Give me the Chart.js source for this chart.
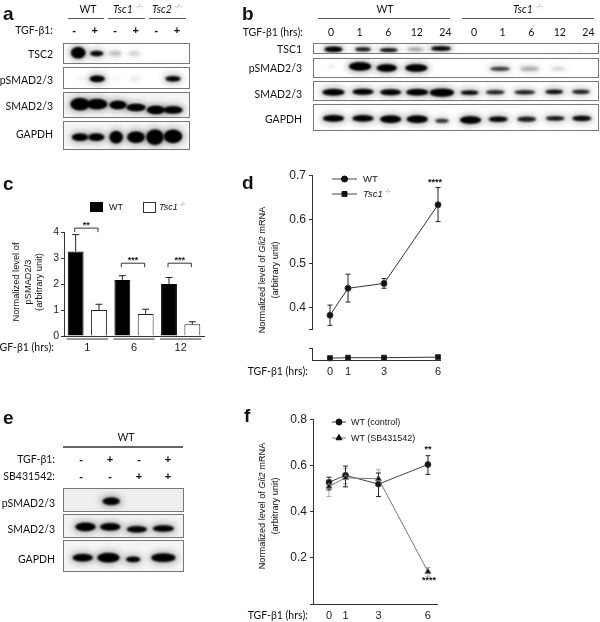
<!DOCTYPE html>
<html>
<head>
<meta charset="utf-8">
<title>TGF-b1 blots and charts</title>
<script src="https://cdn.jsdelivr.net/npm/chart.js@4/dist/chart.umd.min.js"></script>
<style>
  html, body { margin: 0; padding: 0; background: #fff; }
  #page { position: relative; width: 600px; height: 622px; overflow: hidden; filter: blur(0.3px); }
  #page canvas { position: absolute; display: block; }
  .txt { position: absolute; white-space: nowrap; color: #111; line-height: 1; }
  .strip { position: absolute; box-sizing: border-box; border: 1px solid #777; overflow: hidden; }
  .rule { position: absolute; }
  sup { font-size: 60%; color: #777; line-height: 0; }
</style>
</head>
<body>
<div id="page"></div>
<script>
/* --------------- Chart values --------------- */
// panel c
const barHours = ["1", "6", "12"];
const wtBar = [3.25, 2.15, 2.0];
const wtBarTop = [3.9, 2.32, 2.25];
const tscBar = [1.0, 0.85, 0.45];
const tscBarTop = [1.22, 1.03, 0.55];
const barStars = ["**", "***", "***"];
const bracketLevel = [4.15, 2.8, 2.8];

// panel d
const gliHours = [0, 1, 3, 6];
const wtGli = [0.383, 0.444, 0.455, 0.633];
const wtGliHi = [0.406, 0.476, 0.466, 0.672];
const wtGliLo = [0.36, 0.413, 0.444, 0.595];
const tscGli = [0.011, 0.013, 0.013, 0.015];
const gliUpperTicks = [0.35, 0.4, 0.5, 0.6, 0.7];

// panel f
const ctrlGli = [0.527, 0.557, 0.519, 0.604];
const ctrlGliHi = [0.549, 0.597, 0.567, 0.642];
const ctrlGliLo = [0.494, 0.507, 0.465, 0.561];
const sbGli = [0.509, 0.546, 0.542, 0.14];
const sbGliHi = [0.535, 0.585, 0.581, 0.158];
const sbGliLo = [0.465, 0.52, 0.513, 0.12];

// blots: band darkness per lane, 0 = nothing to see
const aTsc2 = [1, 0.85, 0.22, 0.15, 0, 0];
const aPsmad = [0.05, 1, 0.04, 0.1, 0, 0.9];
const aSmad = [1, 1, 1, 1, 1, 1];
const aGapdh = [1, 1, 1, 1, 1, 1];
const bTsc1 = [0.95, 0.8, 0.8, 0.4, 0.95, 0, 0, 0, 0.04, 0.06];
const bPsmad = [0.08, 1, 1, 1, 0, 0, 0.55, 0.32, 0.18, 0];
const bSmad = [1, 0.95, 0.95, 1, 1, 0.9, 0.7, 0.7, 0.85, 0.7];
const bGapdh = [1, 0.95, 1, 1, 0.6, 1, 0.9, 0.7, 0.8, 0.85];
const ePsmad = [0, 1, 0, 0];
const eSmad = [1, 1, 0.95, 0.95];
const eGapdh = [1, 1, 1, 1];

// lane headers
const aTgf = ["-", "+", "-", "+", "-", "+"];
const bHours = ["0", "1", "6", "12", "24", "0", "1", "6", "12", "24"];
const eTgf = ["-", "+", "-", "+"];
const eSb = ["-", "-", "+", "+"];

/* --------------- Helpers --------------- */
const page = document.getElementById("page");
const SANS = '"Liberation Sans", Arial, sans-serif';
const SOFT = 'Lato, "Open Sans", sans-serif';

function label(html, x, y, opts = {}) {
  const el = document.createElement("div");
  el.className = "txt";
  el.innerHTML = html;
  el.style.left = x + "px";
  el.style.top = y + "px";
  el.style.fontFamily = opts.font || SOFT;
  el.style.fontSize = (opts.size || 10.5) + "px";
  if (opts.bold) el.style.fontWeight = "bold";
  const tx = opts.align === "right" ? "-100%" : opts.align === "left" ? "0" : "-50%";
  el.style.transform = `translate(${tx}, -50%)` + (opts.rot ? ` rotate(${opts.rot}deg)` : "");
  page.appendChild(el);
}

function rule(x0, x1, y, color = "#555", h = 1) {
  const el = document.createElement("div");
  el.className = "rule";
  el.style.cssText = `left:${x0}px;top:${y}px;width:${x1 - x0}px;height:${h}px;background:${color}`;
  page.appendChild(el);
}

function addCanvas(left, top, w, h, parent = page) {
  const c = document.createElement("canvas");
  c.width = w;
  c.height = h;
  c.style.left = left + "px";
  c.style.top = top + "px";
  parent.appendChild(c);
  return c;
}

// a blurred smear for one blot band
function bandSprite(w, h, level) {
  const pad = 14;
  const c = document.createElement("canvas");
  c.width = Math.ceil(w + pad * 2);
  c.height = Math.ceil(h + pad * 2);
  const g = c.getContext("2d");
  const blob = (grow, alpha, blur) => {
    g.filter = `blur(${blur}px)`;
    g.fillStyle = `rgba(0,0,0,${alpha})`;
    g.beginPath();
    g.ellipse(c.width / 2, c.height / 2, w / 2 + grow, h / 2 + grow, 0, 0, Math.PI * 2);
    g.fill();
  };
  blob(3, 0.26 * level, 3);
  blob(0, level, level > 0.5 ? 1 : 1.6);
  if (level > 0.5) blob(-0.5, level, 0.8);
  return c;
}

const OVERSCAN = 16; // thin strips: canvas sticks out of the frame so no band gets lost

function strip(box, lanes, levels, shape, bg = "#fff") {
  const [x0, y0, x1, y1] = box;
  const holder = document.createElement("div");
  holder.className = "strip";
  holder.style.cssText = `left:${x0}px;top:${y0}px;width:${x1 - x0}px;height:${y1 - y0}px;background:${bg}`;
  page.appendChild(holder);
  const w = x1 - x0 - 2, h = y1 - y0 - 2 + OVERSCAN * 2;
  const canvas = addCanvas(0, -OVERSCAN, w, h, holder);
  const points = [], sprites = [];
  levels.forEach((level, i) => {
    if (!level) return;
    points.push({
      x: i + (shape.dx ? shape.dx[i] : 0) / lanes.step,
      y: (shape.dy ? shape.dy[i] : 0),
    });
    sprites.push(bandSprite(shape.w[i], shape.h[i], level));
  });
  new Chart(canvas, {
    type: "scatter",
    data: { datasets: [{ data: points, pointRadius: 1, pointStyle: (ctx) => sprites[ctx.dataIndex], clip: false }] },
    options: {
      responsive: false,
      animation: false,
      layout: { padding: 0 },
      plugins: { legend: { display: false }, tooltip: { enabled: false } },
      scales: {
        x: { display: false, min: (x0 + 1 - lanes.first) / lanes.step, max: (x1 - 1 - lanes.first) / lanes.step },
        y: { display: false, min: -h / 2, max: h / 2, reverse: true },
      },
    },
  });
}

/* --------------- Plugins --------------- */
const errorBars = {
  id: "errorBars",
  beforeDatasetsDraw(chart) {
    const { ctx } = chart;
    chart.data.datasets.forEach((ds, d) => {
      if (!ds.errHi) return;
      const meta = chart.getDatasetMeta(d);
      const yScale = chart.scales[meta.yAxisID];
      ctx.save();
      ctx.strokeStyle = ds.errColor || "#222";
      ctx.lineWidth = 1;
      meta.data.forEach((el, i) => {
        const top = yScale.getPixelForValue(ds.errHi[i]);
        const low = yScale.getPixelForValue(ds.errLo ? ds.errLo[i] : ds.data[i].y ?? ds.data[i]);
        const cap = ds.errCap || 2.5;
        ctx.beginPath();
        ctx.moveTo(el.x, top);
        ctx.lineTo(el.x, low);
        ctx.moveTo(el.x - cap, top);
        ctx.lineTo(el.x + cap, top);
        if (ds.errLo) {
          ctx.moveTo(el.x - cap, low);
          ctx.lineTo(el.x + cap, low);
        }
        ctx.stroke();
      });
      ctx.restore();
    });
  },
};

// legend line + marker, the built-in legend can't do line through marker
const legendKeys = (keys) => ({
  id: "legendKeys",
  afterDraw(chart) {
    const { ctx } = chart;
    keys.forEach((k) => {
      ctx.save();
      ctx.strokeStyle = k.line || "#444";
      ctx.lineWidth = 1;
      ctx.beginPath();
      ctx.moveTo(k.x0, k.y);
      ctx.lineTo(k.x1, k.y);
      ctx.stroke();
      ctx.fillStyle = "#111";
      ctx.strokeStyle = "#111";
      Chart.helpers.drawPoint(ctx, { pointStyle: k.style, radius: k.radius, rotation: 0, borderWidth: 1 }, (k.x0 + k.x1) / 2, k.y);
      ctx.fill();
      ctx.restore();
    });
  },
});

const sigBrackets = {
  id: "sigBrackets",
  afterDatasetsDraw(chart) {
    const { ctx, scales } = chart;
    const a = chart.getDatasetMeta(0).data, b = chart.getDatasetMeta(1).data;
    ctx.save();
    barHours.forEach((_, i) => {
      const y = scales.y.getPixelForValue(bracketLevel[i]);
      ctx.strokeStyle = "#333";
      ctx.lineWidth = 1;
      ctx.beginPath();
      ctx.moveTo(a[i].x - 1, y + 4);
      ctx.lineTo(a[i].x - 1, y);
      ctx.lineTo(b[i].x - 1, y);
      ctx.lineTo(b[i].x - 1, y + 4);
      ctx.stroke();
      ctx.fillStyle = "#222";
      ctx.font = "bold 9px " + SANS;
      ctx.textAlign = "center";
      ctx.fillText(barStars[i], (a[i].x + b[i].x) / 2 - 1, y - 0.5);
      // grey bar under each group
      ctx.fillStyle = "#9a9a9a";
      ctx.fillRect(a[i].x - 9, scales.y.bottom + 2, b[i].x - a[i].x + 18, 2);
    });
    ctx.restore();
  },
};

/* --------------- Axis helpers --------------- */
const axisInk = "#333";
const pts = (xs, ys) => xs.map((x, i) => ({ x, y: ys[i] }));

function yAxis(width, extra) {
  return Object.assign({
    afterFit: (s) => { s.width = width; },
    border: { color: axisInk, width: 1 },
    grid: { drawOnChartArea: false, color: axisInk, tickLength: 3 },
  }, extra);
}
function xAxis(height, extra) {
  return Object.assign({
    afterFit: (s) => { s.height = height; },
    border: { color: axisInk, width: 1 },
    grid: { display: false, drawTicks: false },
  }, extra);
}
const baseOptions = (padding) => ({
  responsive: false,
  animation: false,
  layout: { padding },
  plugins: { legend: { display: false }, tooltip: { enabled: false } },
});
const sign = { bold: true, size: 11, font: SANS };

/* --------------- Panel a --------------- */
label("a", 3, 13, { font: SANS, size: 19, bold: true, align: "left" });
label("WT", 88, 9);
label("<i>Tsc1</i> <sup>-/-</sup>", 128, 9);
label("<i>Tsc2</i> <sup>-/-</sup>", 167, 9);
rule(68, 104, 18);
rule(108, 145, 18);
rule(149, 186, 18);
label("TGF-β1:", 53, 30, { align: "right" });
const aLanes = { first: 74, step: 20.6 };
aTgf.forEach((s, i) => label(s, aLanes.first + i * aLanes.step, 30, sign));
label("TSC2", 53, 54, { align: "right" });
label("pSMAD2/3", 53, 80, { align: "right" });
label("SMAD2/3", 53, 106, { align: "right" });
label("GAPDH", 53, 134, { align: "right" });
strip([63, 43, 190, 64], aLanes, aTsc2, { w: [14, 13, 13, 12, 1, 1], h: [11, 5, 5, 5, 1, 1], dy: [-1, 0, 0, 0, 0, 0], dx: [0, -0.5, -1, -1, 0, 0] });
strip([63, 67, 190, 89], aLanes, aPsmad, { w: [10, 15, 10, 12, 1, 15], h: [3, 6, 3, 3, 1, 5], dy: [0, 1, 1, 1, 0, 1], dx: [2, 0, 0, 0, 0, 0] });
strip([63, 92, 190, 118], aLanes, aSmad, { w: [19, 20, 17, 19, 18, 19], h: [12, 10, 8, 7, 8, 7], dy: [-1, -1, 0, 3, 6, 6], dx: [2, 0, 2, 1, 2, 0] }, "#f6f6f6");
strip([63, 121, 190, 150], aLanes, aGapdh, { w: [16, 16, 13, 17, 17, 18], h: [7, 7, 12, 11, 15, 13], dy: [2, 2, 2, 2, 2, 1], dx: [2, -1, 0, 1, 1, 0] }, "#f6f6f6");

/* --------------- Panel b --------------- */
label("b", 242, 13, { font: SANS, size: 19, bold: true, align: "left" });
label("WT", 385, 9);
label("<i>Tsc1</i> <sup>-/-</sup>", 528, 9);
rule(318, 450, 18);
rule(462, 594, 18);
label("TGF-β1 (hrs):", 303, 32, { align: "right" });
const bLanes = { first: 331, step: 28.6 };
bHours.forEach((s, i) => label(s, bLanes.first + i * bLanes.step, 32));
label("TSC1", 302, 49, { align: "right" });
label("pSMAD2/3", 302, 68, { align: "right" });
label("SMAD2/3", 302, 94, { align: "right" });
label("GAPDH", 302, 119, { align: "right" });
strip([313, 43, 599, 54], bLanes, bTsc1, { w: [18, 16, 18, 17, 20, 1, 1, 1, 8, 10], h: [5, 3.5, 3.5, 3, 4, 1, 1, 1, 2, 2], dy: [1, 1, 2, 1, 0, 0, 0, 0, 4, 3.5], dx: [-2, 0, -2, -3, -5, 0, 0, 0, -3, -5] });
strip([313, 58, 599, 78], bLanes, bPsmad, { w: [6, 22, 20, 22, 1, 1, 20, 19, 14, 1], h: [3, 8, 7, 7, 1, 1, 4, 4, 3, 1], dy: [-2, -2, 0, 0, 0, 0, 1, 1, 1, 0], dx: [-4, -3, -4, -2, 0, 0, -1, 1, 2, 0] });
strip([313, 81, 599, 101], bLanes, bSmad, { w: [22, 21, 21, 22, 24, 18, 19, 21, 18, 18], h: [6, 5.5, 5.5, 6, 7.5, 4, 4, 4, 4, 4], dy: [1.5, 1, 1.5, 1.5, 2, 2, 1.5, 1.5, 1, 1], dx: [-2, 0, 0, -1, -4, -4, -6, -4, -2, -3] });
strip([313, 104, 599, 131], bLanes, bGapdh, { w: [21, 21, 21, 21, 14, 21, 19, 19, 19, 19], h: [6, 6, 7, 7, 4, 7, 5, 5, 4, 5], dy: [1, 1, 2, 2, 4, 3, 2, 2, 1, 1], dx: [-2, 0, 0, -1, -4, -3, -3, -2, -1, -2] });

/* --------------- Panel c --------------- */
label("c", 3, 183, { font: SANS, size: 19, bold: true, align: "left" });
const keyW = document.createElement("div");
keyW.className = "rule";
keyW.style.cssText = "left:90px;top:202px;width:13px;height:10px;background:#000";
page.appendChild(keyW);
label("WT", 109, 207, { align: "left", font: SANS, size: 9 });
const keyT = document.createElement("div");
keyT.className = "rule";
keyT.style.cssText = "left:143px;top:202px;width:11px;height:9px;background:#fff;border:1px solid #333";
page.appendChild(keyT);
label("<i>Tsc1</i> <sup>-/-</sup>", 159, 207, { align: "left", font: SANS, size: 9 });
label("Normalized level of", 17, 282, { font: SANS, rot: -90, size: 9.3 });
label("pSMAD2/3", 29, 282, { font: SANS, rot: -90, size: 9.3 });
label("(arbitrary unit)", 40, 282, { font: SANS, rot: -90, size: 9.3 });
label("TGF-β1 (hrs):", 54, 347, { align: "right" });

new Chart(addCanvas(40, 215, 175, 145), {
  type: "bar",
  data: {
    labels: barHours,
    datasets: [
      { data: wtBar, errHi: wtBarTop, errCap: 3.5, backgroundColor: "#000", borderColor: "#000", borderWidth: 1 },
      { data: tscBar, errHi: tscBarTop, errCap: 3.5, backgroundColor: "#fff", borderColor: "#222", borderWidth: 1 },
    ],
  },
  options: Object.assign(baseOptions({ top: 17, right: 11, left: 0, bottom: 0 }), {
    datasets: { bar: { categoryPercentage: 1, barPercentage: 0.68 } },
    scales: {
      x: xAxis(24, { ticks: { padding: 5, color: "#222", font: { family: SANS, size: 11 }, maxRotation: 0 } }),
      y: yAxis(24, { min: 0, max: 4, ticks: { stepSize: 1, padding: 2, color: "#222", font: { family: SANS, size: 10.5 } } }),
    },
  }),
  plugins: [errorBars, sigBrackets],
});

/* --------------- Panel d --------------- */
label("d", 242, 182, { font: SANS, size: 19, bold: true, align: "left" });
label("Normalized level of <i>Gli2</i> mRNA", 263, 270, { font: SANS, rot: -90, size: 9.2 });
label("(arbitrary unit)", 276, 270, { font: SANS, rot: -90, size: 9.2 });
label("TGF-β1 (hrs):", 308, 371, { align: "right" });
label("WT", 363, 179, { align: "left", font: SANS, size: 9.5 });
label("<i>Tsc1</i> <sup>-/-</sup>", 363, 194, { align: "left", font: SANS, size: 9.5 });
label("****", 435, 182, { font: SANS, bold: true, size: 9 });

const dLeft = 280, dTop = 165;
new Chart(addCanvas(dLeft, dTop, 170, 175), {
  type: "scatter",
  data: {
    datasets: [{
      data: pts(gliHours, wtGli), errHi: wtGliHi, errLo: wtGliLo,
      showLine: true, borderColor: "#333", borderWidth: 1, backgroundColor: "#111",
      pointRadius: 3, pointStyle: "circle", clip: false,
    }],
  },
  options: Object.assign(baseOptions({ top: 10, right: 10, left: 0, bottom: 7 }), {
    scales: {
      x: { display: false, type: "linear", min: -1, max: 6.11 },
      y: yAxis(32, {
        min: 0.35, max: 0.7,
        afterBuildTicks: (s) => { s.ticks = gliUpperTicks.map((value) => ({ value })); },
        ticks: {
          padding: 3, color: "#222", font: { family: SANS, size: 12 },
          callback: (v) => (v === 0.35 ? "" : v.toFixed(1)),
        },
      }),
    },
  }),
  plugins: [errorBars, legendKeys([
    { x0: 332 - dLeft, x1: 357 - dLeft, y: 179 - dTop, style: "circle", radius: 3 },
    { x0: 332 - dLeft, x1: 357 - dLeft, y: 194 - dTop, style: "rect", radius: 3.5 },
  ])],
});

new Chart(addCanvas(dLeft, 338, 170, 46), {
  type: "scatter",
  data: {
    datasets: [{
      data: pts(gliHours, tscGli),
      showLine: true, borderColor: "#333", borderWidth: 1, backgroundColor: "#111",
      pointRadius: 3.5, pointStyle: "rect", clip: false,
    }],
  },
  options: Object.assign(baseOptions({ top: 6, right: 10, left: 0, bottom: 0 }), {
    scales: {
      x: xAxis(23, {
        type: "linear", min: -1, max: 6.11,
        afterBuildTicks: (s) => { s.ticks = gliHours.map((value) => ({ value })); },
        ticks: { padding: 4, color: "#222", font: { family: SANS, size: 11 }, maxRotation: 0 },
      }),
      y: yAxis(32, {
        min: 0, max: 0.05,
        afterBuildTicks: (s) => { s.ticks = [{ value: 0.05 }]; },
        ticks: { callback: () => "" },
      }),
    },
  }),
});

/* --------------- Panel e --------------- */
label("e", 3, 417, { font: SANS, size: 19, bold: true, align: "left" });
label("WT", 126, 437);
rule(63, 183, 446, "#666", 2);
label("TGF-β1:", 55, 459, { align: "right" });
label("SB431542:", 55, 476, { align: "right" });
const eLanes = { first: 81, step: 29 };
eTgf.forEach((s, i) => label(s, eLanes.first + i * eLanes.step, 459, sign));
eSb.forEach((s, i) => label(s, eLanes.first + i * eLanes.step, 476, sign));
label("pSMAD2/3", 55, 503, { align: "right" });
label("SMAD2/3", 55, 529, { align: "right" });
label("GAPDH", 55, 559, { align: "right" });
strip([63, 488, 184, 512], eLanes, ePsmad, { w: [1, 17, 1, 1], h: [1, 7, 1, 1], dy: [0, 1.5, 0, 0], dx: [0, 0, 0, 0] }, "#eeeeee");
strip([63, 514, 184, 538], eLanes, eSmad, { w: [20, 20, 20, 21], h: [8, 7, 6, 6], dy: [1, 1, 4, 3], dx: [1, -1, -1, -1] }, "#f2f2f2");
strip([63, 540, 184, 572], eLanes, eGapdh, { w: [20, 22, 14, 24], h: [7, 9, 5, 8], dy: [2, 2, 4, 2], dx: [-2, -3, -5, -1] }, "#f4f4f4");

/* --------------- Panel f --------------- */
label("f", 244, 415, { font: SANS, size: 19, bold: true, align: "left" });
label("Normalized level of <i>Gli2</i> mRNA", 263, 506, { font: SANS, rot: -90, size: 9.2 });
label("(arbitrary unit)", 276, 506, { font: SANS, rot: -90, size: 9.2 });
label("TGF-β1 (hrs):", 308, 615, { align: "right" });
label("WT (control)", 351, 422, { align: "left", font: SANS, size: 9 });
label("WT (SB431542)", 351, 438, { align: "left", font: SANS, size: 9 });
label("**", 428, 449, { font: SANS, bold: true, size: 9 });
label("****", 429, 580, { font: SANS, bold: true, size: 9 });

const fLeft = 280, fTop = 409;
new Chart(addCanvas(fLeft, fTop, 170, 213), {
  type: "scatter",
  data: {
    datasets: [
      {
        data: pts(gliHours, sbGli), errHi: sbGliHi, errLo: sbGliLo, errColor: "#aaa",
        showLine: true, borderColor: "#777", borderWidth: 1, backgroundColor: "#111",
        pointRadius: 3.5, pointStyle: "triangle", clip: false,
      },
      {
        data: pts(gliHours, ctrlGli), errHi: ctrlGliHi, errLo: ctrlGliLo,
        showLine: true, borderColor: "#444", borderWidth: 1, backgroundColor: "#111",
        pointRadius: 3, pointStyle: "circle", clip: false,
      },
    ],
  },
  options: Object.assign(baseOptions({ top: 10, right: 13, left: 0, bottom: 0 }), {
    scales: {
      x: xAxis(18, {
        type: "linear", min: -0.97, max: 6.55,
        afterBuildTicks: (s) => { s.ticks = gliHours.map((value) => ({ value })); },
        ticks: { padding: 5, color: "#222", font: { family: SANS, size: 11 }, maxRotation: 0 },
      }),
      y: yAxis(33, {
        min: 0, max: 0.8,
        ticks: {
          stepSize: 0.2, padding: 3, color: "#222", font: { family: SANS, size: 12 },
          callback: (v) => (v === 0 ? "" : v.toFixed(1)),
        },
      }),
    },
  }),
  plugins: [errorBars, legendKeys([
    { x0: 332 - fLeft, x1: 346 - fLeft, y: 422 - fTop, style: "circle", radius: 3 },
    { x0: 332 - fLeft, x1: 346 - fLeft, y: 438 - fTop, style: "triangle", radius: 3.5, line: "#777" },
  ])],
});
</script>
</body>
</html>
